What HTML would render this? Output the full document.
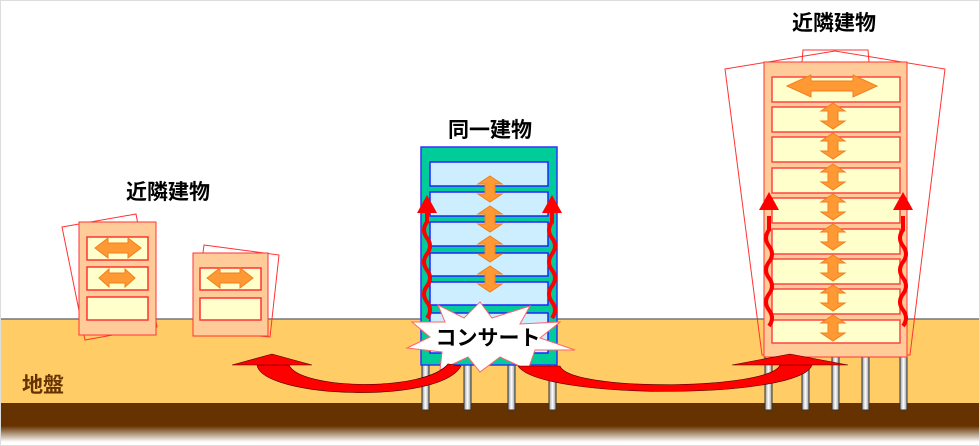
<!DOCTYPE html>
<html><head><meta charset="utf-8"><style>
html,body{margin:0;padding:0;background:#fff}
svg{display:block}
text{font-family:"Liberation Sans","Noto Sans CJK JP",sans-serif;font-weight:bold}
</style></head><body>
<svg width="980" height="446" viewBox="0 0 980 446" xmlns="http://www.w3.org/2000/svg">
<defs>
<linearGradient id="sh" x1="0" y1="0" x2="0" y2="1">
<stop offset="0" stop-color="#663300"/><stop offset="1" stop-color="#ffffff"/>
</linearGradient>
<linearGradient id="pl" x1="0" y1="0" x2="1" y2="0">
<stop offset="0" stop-color="#999"/><stop offset=".5" stop-color="#fff"/><stop offset="1" stop-color="#999"/>
</linearGradient>
<g id="dv">
<polygon points="0,-13 12,-5 5,-5 5,5 12,5 0,13 -12,5 -5,5 -5,-5 -12,-5" fill="#FF9933" stroke="#f08020" stroke-width="1"/>
</g>
</defs>
<rect x="0.5" y="0.5" width="979" height="445" fill="#fff" stroke="#ddd"/>
<rect x="1" y="319" width="978" height="84" fill="#FFCC66"/>
<line x1="1" y1="319" x2="979" y2="319" stroke="#777" stroke-width="1.5"/>
<rect x="1" y="403" width="978" height="24" fill="#663300"/>
<rect x="1" y="426" width="978" height="16" fill="url(#sh)"/>
<text x="22" y="392" font-size="21" fill="#663300">地盤</text>

<polygon points="62,227 136,214 157,327 85,340" fill="none" stroke="#f33" stroke-width="1"/>
<rect x="79" y="222" width="77" height="113" fill="#FFCC99" stroke="#f33"/>
<rect x="87" y="237" width="61" height="23" fill="#FFFFCC" stroke="#f33" stroke-width="1.5"/>
<rect x="87" y="267" width="61" height="23" fill="#FFFFCC" stroke="#f33" stroke-width="1.5"/>
<rect x="87" y="297" width="61" height="23" fill="#FFFFCC" stroke="#f33" stroke-width="1.5"/>
<polygon points="95,248 108,238 108,243 128,243 128,238 141,248 128,258 128,253 108,253 108,258" fill="#FF9933" stroke="#f08020"/>
<polygon points="99,278 109,269 109,273 125,273 125,269 135,278 125,287 125,283 109,283 109,287" fill="#FF9933" stroke="#f08020"/>
<polygon points="204,245 279,255 270,337 193,330" fill="none" stroke="#f33" stroke-width="1"/>
<rect x="193" y="253" width="75" height="83" fill="#FFCC99" stroke="#f33"/>
<rect x="200" y="268" width="61" height="22" fill="#FFFFCC" stroke="#f33" stroke-width="1.5"/>
<rect x="200" y="298" width="61" height="22" fill="#FFFFCC" stroke="#f33" stroke-width="1.5"/>
<polygon points="207,278 220,268 220,273 240,273 240,268 253,278 240,288 240,283 220,283 220,288" fill="#FF9933" stroke="#f08020"/>
<text x="168" y="199" font-size="21" fill="#000" text-anchor="middle">近隣建物</text>

<g fill="url(#pl)" stroke="#333" stroke-width="1">
<rect x="422" y="365" width="7" height="45"/><rect x="464" y="365" width="7" height="45"/>
<rect x="508" y="365" width="7" height="45"/><rect x="549" y="365" width="7" height="45"/>
</g>
<rect x="421" y="147" width="136" height="218" fill="#00CC99" stroke="#33f" stroke-width="1.5"/>
<g fill="#CCEEFF" stroke="#22f" stroke-width="1.5">
<rect x="430" y="162" width="118" height="24"/><rect x="430" y="192" width="118" height="24"/>
<rect x="430" y="222" width="118" height="24"/><rect x="430" y="253" width="118" height="23"/>
<rect x="430" y="282" width="118" height="23"/><rect x="430" y="313" width="118" height="40"/>
</g>
<use href="#dv" x="490" y="189"/><use href="#dv" x="490" y="219"/><use href="#dv" x="490" y="249"/><use href="#dv" x="490" y="279"/>
<text x="490" y="137" font-size="21" fill="#000" text-anchor="middle">同一建物</text>
<g fill="none" stroke="#f00" stroke-width="4">
<path d="M427,318 q6,-8 0,-16 q-6,-8 0,-16 q6,-8 0,-16 q-6,-8 0,-16 q6,-8 0,-16 q-6,-8 0,-16 l0,-14"/>
<path d="M552,318 q6,-8 0,-16 q-6,-8 0,-16 q6,-8 0,-16 q-6,-8 0,-16 q6,-8 0,-16 q-6,-8 0,-16 l0,-14"/>
</g>
<polygon points="427,195 417,213 437,213" fill="#f00"/>
<polygon points="552,195 542,213 562,213" fill="#f00"/>
<polygon points="480,302 492,318 530,306 520,324 560,322 540,338 575,350 535,350 528,370 500,357 480,372 468,357 440,370 442,352 407,348 430,337 412,322 445,322 438,305 464,318" fill="#fff" stroke="#f66" stroke-width="1"/>
<text x="488" y="345" font-size="21" fill="#000" text-anchor="middle">コンサート</text>

<g fill="url(#pl)" stroke="#333" stroke-width="1">
<rect x="765" y="357" width="7" height="53"/><rect x="802" y="357" width="7" height="53"/>
<rect x="832" y="357" width="7" height="53"/><rect x="862" y="357" width="7" height="53"/>
<rect x="900" y="357" width="7" height="53"/>
</g>
<polygon points="725,69 835,51 945,69 910,355 762,355" fill="none" stroke="#f33" stroke-width="1"/>
<polyline points="802,62 803,50 868,50 869,62" fill="none" stroke="#f33" stroke-width="1"/>
<rect x="764" y="62" width="143" height="295" fill="#FFCC99" stroke="#f33"/>
<g fill="#FFFFCC" stroke="#f44" stroke-width="1.5">
<rect x="772" y="77" width="128" height="25"/><rect x="772" y="107" width="128" height="25"/>
<rect x="772" y="137" width="128" height="25"/><rect x="772" y="168" width="128" height="25"/>
<rect x="772" y="198" width="128" height="25"/><rect x="772" y="229" width="128" height="25"/>
<rect x="772" y="259" width="128" height="25"/><rect x="772" y="289" width="128" height="25"/>
<rect x="772" y="320" width="128" height="23"/>
</g>
<polygon points="787,86 811,75 811,81 853,81 853,75 877,86 853,97 853,91 811,91 811,97" fill="#FF9933" stroke="#f08020"/>
<use href="#dv" x="833" y="116"/><use href="#dv" x="833" y="146"/><use href="#dv" x="833" y="177"/>
<use href="#dv" x="833" y="207"/><use href="#dv" x="833" y="237"/><use href="#dv" x="833" y="268"/>
<use href="#dv" x="833" y="298"/><use href="#dv" x="833" y="328"/>
<g fill="none" stroke="#f00" stroke-width="4">
<path d="M769,326 q6,-8 0,-16 q-6,-8 0,-16 q6,-8 0,-16 q-6,-8 0,-16 q6,-8 0,-16 q-6,-8 0,-16 l0,-14"/>
<path d="M903,326 q6,-8 0,-16 q-6,-8 0,-16 q6,-8 0,-16 q-6,-8 0,-16 q6,-8 0,-16 q-6,-8 0,-16 l0,-14"/>
</g>
<polygon points="769,192 759,210 779,210" fill="#f00"/>
<polygon points="903,192 893,210 913,210" fill="#f00"/>
<text x="834" y="30" font-size="21" fill="#000" text-anchor="middle">近隣建物</text>

<!-- curved arrows (on top) -->
<path d="M257,365 C262,398 440,405 461,366 L448,364 C425,392 300,390 289,365 Z" fill="#f00" stroke="#400" stroke-width="0.6"/>
<polygon points="232,365 272,354 312,365" fill="#f00" stroke="#400" stroke-width="0.6"/>
<path d="M518,366 C540,400 800,400 812,365 L780,365 C770,390 570,392 560,366 Z" fill="#f00" stroke="#400" stroke-width="0.6"/>
<polygon points="732,365 790,354 848,365" fill="#f00" stroke="#400" stroke-width="0.6"/>
</svg>
</body></html>
